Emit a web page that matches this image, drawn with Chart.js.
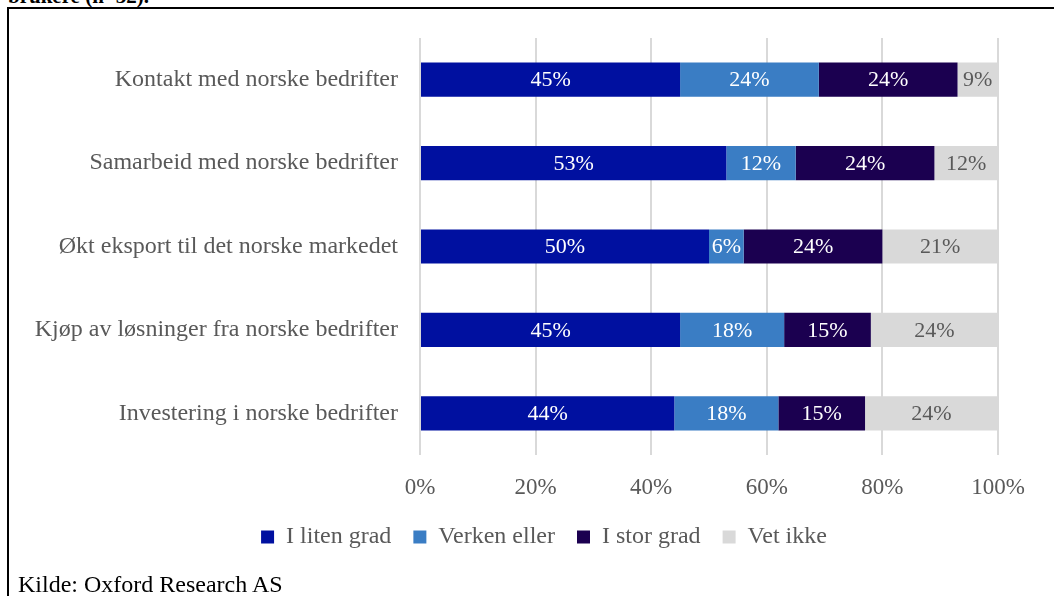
<!DOCTYPE html>
<html>
<head>
<meta charset="utf-8">
<script src="https://cdn.jsdelivr.net/npm/chart.js@4.4.1/dist/chart.umd.min.js"></script>
<style>
    html, body { margin: 0; padding: 0; background: #fff; overflow: hidden; }
    body { width: 1054px; height: 596px; position: relative; font-family: "Liberation Serif", "Times New Roman", serif; }
    .frame { position: absolute; left: 7px; top: 7px; width: 1200px; height: 800px; border: 2px solid #000; box-sizing: border-box; }
    .caption { position: absolute; left: 8px; top: -16px; font-size: 21px; font-weight: bold; color: #000; }
    .source { position: absolute; left: 18px; top: 571px; font-size: 24px; color: #000; }
    #chartWrap { position: absolute; left: 0; top: 0; width: 1054px; height: 596px; }
</style>
</head>
<body>
<div class="frame"></div>
<div class="caption">brukere (n=32).</div>
<div id="chartWrap"><canvas id="effectChart"></canvas></div>
<div class="source">Kilde: Oxford Research AS</div>

<script>
// Survey answers per area, percent of respondents
const categories = [
    'Kontakt med norske bedrifter',
    'Samarbeid med norske bedrifter',
    'Økt eksport til det norske markedet',
    'Kjøp av løsninger fra norske bedrifter',
    'Investering i norske bedrifter'
];
const seriesNames = ['I liten grad', 'Verken eller', 'I stor grad', 'Vet ikke'];
const litenGrad = [45, 53, 50, 45, 44];
const verkenEller = [24, 12, 6, 18, 18];
const storGrad = [24, 24, 24, 15, 15];
const vetIkke = [9, 12, 21, 24, 24];
const xTicks = [0, 20, 40, 60, 80, 100];

const seriesColors = ['#0010A0', '#3A7DC4', '#1B0050', '#D9D9D9'];
const labelColors = ['#FFFFFF', '#FFFFFF', '#FFFFFF', '#595959'];
const TEXT_GREY = '#595959';
const FONT = '"Liberation Serif", "Times New Roman", serif';

// Writes the percentage in the middle of every bar segment
const segmentLabels = {
    id: 'segmentLabels',
    afterDatasetsDraw(chart) {
        const ctx = chart.ctx;
        ctx.save();
        ctx.font = '22px ' + FONT;
        ctx.textAlign = 'center';
        ctx.textBaseline = 'middle';
        chart.data.datasets.forEach((ds, i) => {
            const meta = chart.getDatasetMeta(i);
            meta.data.forEach((bar, j) => {
                const left = Math.min(bar.base, bar.x);
                const right = Math.min(Math.max(bar.base, bar.x), chart.chartArea.right);
                ctx.fillStyle = labelColors[i];
                ctx.fillText(ds.data[j] + '%', (left + right) / 2, bar.y + 1);
            });
        });
        ctx.restore();
    }
};

// Legend sits a little higher and centred under the whole figure
const legendShift = {
    id: 'legendShift',
    afterLayout(chart) {
        const lg = chart.legend;
        lg.top -= 7;
        lg.bottom -= 7;
        lg.left += 45;
        lg.right += 45;
    }
};

const datasets = [litenGrad, verkenEller, storGrad, vetIkke].map((values, i) => ({
    label: seriesNames[i],
    data: values,
    backgroundColor: seriesColors[i],
    borderWidth: 0,
    barPercentage: 0.41,
    categoryPercentage: 1
}));

new Chart(document.getElementById('effectChart'), {
    type: 'bar',
    data: { labels: categories, datasets: datasets },
    plugins: [segmentLabels, legendShift],
    options: {
        indexAxis: 'y',
        responsive: true,
        maintainAspectRatio: false,
        animation: false,
        layout: { padding: { left: 0, right: 56, top: 38, bottom: 30 } },
        plugins: {
            legend: {
                position: 'bottom',
                labels: {
                    boxWidth: 13,
                    boxHeight: 13,
                    padding: 22,
                    color: TEXT_GREY,
                    font: { family: FONT, size: 24 }
                }
            },
            tooltip: { enabled: false }
        },
        scales: {
            x: {
                stacked: true,
                min: 0,
                max: 100,
                afterBuildTicks: scale => { scale.ticks = xTicks.map(v => ({ value: v })); },
                afterFit: scale => { scale.height = 55; },
                grid: { color: '#D9D9D9', lineWidth: 2, drawTicks: false },
                border: { display: false },
                ticks: {
                    padding: 19,
                    color: TEXT_GREY,
                    font: { family: FONT, size: 23 },
                    callback: v => v + '%'
                }
            },
            y: {
                stacked: true,
                afterFit: scale => { scale.width = 420; },
                grid: { display: false, drawTicks: false },
                border: { display: false },
                ticks: {
                    padding: 22,
                    color: TEXT_GREY,
                    font: { family: FONT, size: 24 }
                }
            }
        }
    }
});
</script>
</body>
</html>
